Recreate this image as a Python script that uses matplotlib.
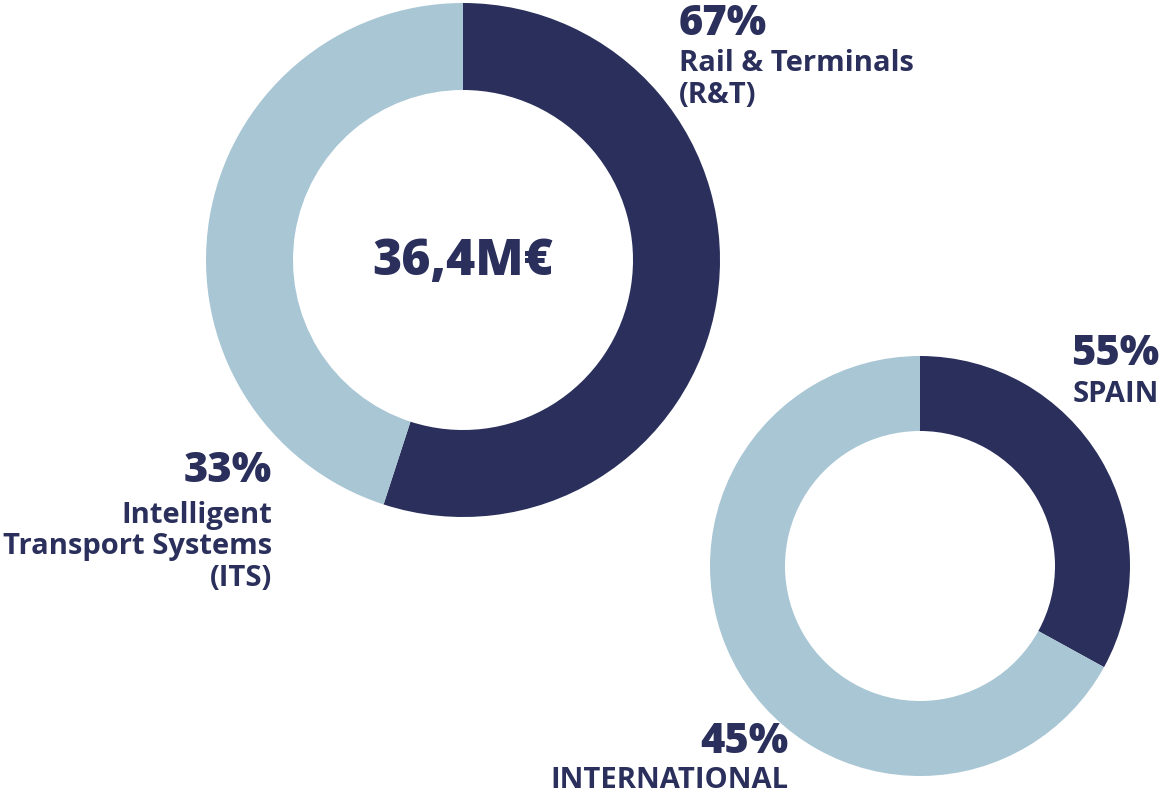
import matplotlib.pyplot as plt

W, H = 1163, 795
NAVY = "#2a2f5b"
LIGHT = "#a9c6d5"

# shares as drawn in the picture (dark first, clockwise from 12 o'clock)
business_shares = [55, 45]
region_shares = [33, 67]

business_pct = ["67%", "33%"]
business_names = ["Rail & Terminals\n(R&T)", "Intelligent\nTransport Systems\n(ITS)"]
region_pct = ["55%", "45%"]
region_names = ["SPAIN", "INTERNATIONAL"]
total_label = "36,4M€"

plt.rcParams["font.family"] = ["Open Sans", "DejaVu Sans"]

fig = plt.figure(figsize=(W / 100, H / 100), dpi=100)
ax = fig.add_axes([0, 0, 1, 1])


def Y(y_px):
    return H - y_px


# big donut
ax.pie(business_shares, colors=[NAVY, LIGHT], startangle=90, counterclock=False,
       center=(463, Y(260)), radius=257, frame=True,
       wedgeprops=dict(width=87, linewidth=0))
# small donut
ax.pie(region_shares, colors=[NAVY, LIGHT], startangle=90, counterclock=False,
       center=(920, Y(566)), radius=210, frame=True,
       wedgeprops=dict(width=75, linewidth=0))
ax.set_xlim(0, W)
ax.set_ylim(0, H)
ax.set_aspect("equal")
ax.axis("off")

ax.text(463, Y(262), total_label, ha="center", va="center", fontsize=36,
        fontweight="heavy", color=NAVY)

pct_kw = dict(fontsize=30, fontweight="heavy", color=NAVY, va="baseline")
name_kw = dict(fontsize=21, fontweight="bold", color=NAVY, va="baseline",
               linespacing=1.12)

# Rail & Terminals
ax.text(679, Y(35), business_pct[0], ha="left", **pct_kw)
ax.text(679, Y(103), business_names[0], ha="left", multialignment="left", **name_kw)

# ITS
ax.text(272, Y(482), business_pct[1], ha="right", **pct_kw)
ax.text(272, Y(586), business_names[1], ha="right", multialignment="right", **name_kw)

# Spain
ax.text(1159, Y(365), region_pct[0], ha="right", **pct_kw)
ax.text(1159, Y(402), region_names[0], ha="right", **name_kw)

# International
ax.text(788, Y(753), region_pct[1], ha="right", **pct_kw)
ax.text(788, Y(788), region_names[1], ha="right", **name_kw)

fig.savefig("out.png", dpi=100, facecolor="white")
